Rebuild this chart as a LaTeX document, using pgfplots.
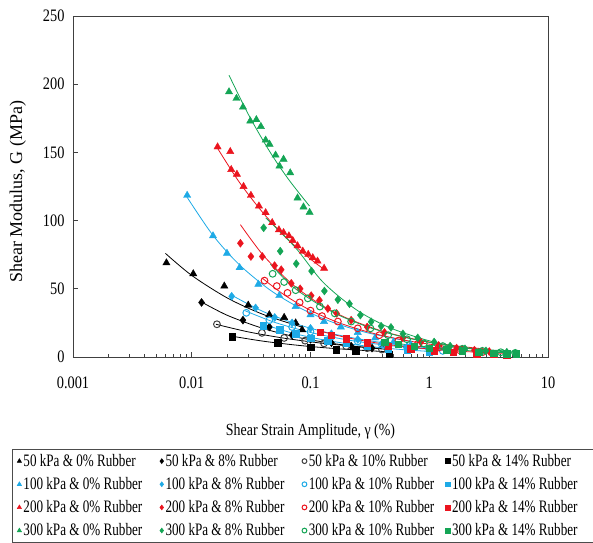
\documentclass[border=0pt]{standalone}
\usepackage{pgfplots}
\pgfplotsset{compat=1.18}
\usepackage{fontspec}
\setmainfont{Liberation Serif}[FakeStretch=0.82]
\newfontfamily\ylabfont{Liberation Serif}
\newfontfamily\legfont{Liberation Serif}[FakeStretch=0.75]
\definecolor{cblue}{RGB}{30,170,230}
\definecolor{cred}{RGB}{235,20,30}
\definecolor{cgreen}{RGB}{20,165,85}
\pgfplotsset{
 sc/.style={only marks, legend image code/.code={\draw[##1,mark size=2.4pt] plot coordinates {(0pt,0pt)};}},
 tl/.style={no markers, line width=0.8pt, smooth, forget plot},
 tri/.style={sc, mark=triangle*, mark size=4.2pt},
 dia/.style={sc, mark=diamond*, mark size=4pt},
 cir/.style={sc, mark=o, mark size=3.4pt, line width=1pt},
 sqr/.style={sc, mark=square*, mark size=3.2pt},
}
\newcommand\LE[1]{\makebox[134.5pt][l]{#1}}
\begin{document}
\begin{tikzpicture}
\begin{axis}[
 scale only axis, width=475pt, height=341pt,
 xmode=log, xmin=0.001, xmax=10, ymin=0, ymax=250,
 xtick={0.001,0.01,0.1,1,10}, xticklabels={0.001,0.01,0.1,1,10},
 ytick={0,50,100,150,200,250},
 tick align=inside, xtick pos=left, ytick pos=left,
 major tick length=5pt, minor tick length=3pt,
 axis line style={black!75, line width=0.9pt},
 every tick/.style={black!75, line width=0.7pt},
 /pgf/number format/assume math mode=true,
 tick label style={font=\fontsize{17.5}{20}\selectfont},
 yticklabel style={xshift=-5pt},
 xticklabel style={yshift=-16pt},
 xlabel={Shear Strain Amplitude, γ (\%)},
 ylabel={Shear Modulus, G (MPa)},
 xlabel style={font=\fontsize{17}{20}\selectfont, at={(axis description cs:0.5,-0.217)}, anchor=center},
 ylabel style={font=\ylabfont\fontsize{18}{20}\selectfont, at={(axis description cs:-0.116,0.484)}, anchor=center},
 legend columns=4,
 legend cell align=left,
 legend style={at={(-0.1284,-0.2698)}, anchor=north west, draw=black!70, line width=0.6pt,
   font=\legfont\fontsize{17.5}{19}\selectfont, row sep=5.5pt, inner xsep=5pt, inner ysep=3pt,
   /tikz/every even column/.append style={column sep=0pt}},
]
% 50 kPa
\addplot[tri, black] coordinates {(0.00612,69) (0.0103,61) (0.0188,52) (0.0299,38) (0.045,31) (0.06,29) (0.075,25) (0.085,20)};
\addlegendentry{\LE{50 kPa \& 0\% Rubber}}
\addplot[tl, black] coordinates {(0.006,76) (0.01,59.8) (0.02,43.2) (0.04,31.2) (0.085,21.9)};
\addplot[dia, black] coordinates {(0.0121,40) (0.027,27) (0.045,22) (0.07,16) (0.1,13) (0.15,10.5) (0.22,8) (0.33,6.5) (0.45,5)};
\addlegendentry{\LE{50 kPa \& 8\% Rubber}}
\addplot[tl, black] coordinates {(0.0117,41) (0.02,30.5) (0.04,20.9) (0.08,14.2) (0.15,10.1) (0.25,7.6) (0.45,5.5)};
\addplot[cir, black!75] coordinates {(0.0163,24) (0.039,17.7) (0.06,14) (0.09,12) (0.13,10) (0.2,8) (0.3,6.5) (0.4,5.5)};
\addlegendentry{\LE{50 kPa \& 10\% Rubber}}
\addplot[tl, black] coordinates {(0.016,24) (0.03,18.4) (0.06,13.8) (0.12,10.3) (0.22,8.0) (0.4,6.2)};
\addplot[sqr, black] coordinates {(0.022,15) (0.053,10.5) (0.1,7) (0.164,5.5) (0.24,4.5) (0.46,2)};
\addlegendentry{\LE{50 kPa \& 14\% Rubber}}
\addplot[tl, black] coordinates {(0.021,15.5) (0.04,11.6) (0.08,8.5) (0.15,6.4) (0.27,4.9) (0.47,3.8)};
% 100 kPa
\addplot[tri, cblue] coordinates {(0.00915,118.5) (0.0151,88.8) (0.0198,76) (0.0253,65.5) (0.0364,53.3) (0.0546,45) (0.075,37) (0.1,31) (0.13,26) (0.18,22) (0.25,18) (0.35,14) (0.5,11) (0.7,9)};
\addlegendentry{\LE{100 kPa \& 0\% Rubber}}
\addplot[tl, cblue] coordinates {(0.009,118) (0.015,89.5) (0.025,67.9) (0.045,49.5) (0.08,36.3) (0.15,25.8) (0.3,17.8) (0.7,11.2)};
\addplot[dia, cblue] coordinates {(0.0217,44.5) (0.0345,36) (0.05,29) (0.07,25) (0.1,21) (0.15,17) (0.25,13) (0.4,10) (0.65,7.5) (1.0,6)};
\addlegendentry{\LE{100 kPa \& 8\% Rubber}}
\addplot[tl, cblue] coordinates {(0.021,46) (0.04,33.3) (0.08,23.6) (0.15,17.2) (0.3,12.2) (0.6,8.6) (1.0,6.7)};
\addplot[cir, cblue] coordinates {(0.0288,32.4) (0.045,27) (0.07,22) (0.1,18.5) (0.15,15) (0.25,11.5) (0.4,9) (0.65,7) (1.0,5.5) (1.3,4.5)};
\addlegendentry{\LE{100 kPa \& 10\% Rubber}}
\addplot[tl, cblue] coordinates {(0.028,34) (0.05,25.4) (0.1,18) (0.2,12.7) (0.4,9) (0.8,6.4) (1.3,5)};
\addplot[sqr, cblue] coordinates {(0.04,23) (0.055,20) (0.075,17) (0.1,14) (0.14,12) (0.2,10) (0.3,8) (0.45,6) (0.65,5) (1.0,3.5)};
\addlegendentry{\LE{100 kPa \& 14\% Rubber}}
\addplot[tl, cblue] coordinates {(0.04,24) (0.07,17.6) (0.12,13.1) (0.2,9.9) (0.35,7.3) (0.6,5.4) (1.0,4.1)};
% 200 kPa
\addplot[tri, cred] coordinates {(0.0165,154) (0.0211,150.6) (0.0215,137.4) (0.024,134) (0.0273,125) (0.0315,118.5) (0.0368,110.7) (0.0419,105.8) (0.0476,98.5) (0.0542,93.2) (0.0593,91.2) (0.0658,88.8) (0.0709,85.4) (0.0778,81.5) (0.0861,77.6) (0.0957,75.2) (0.1045,72.8) (0.1146,70.3) (0.1302,65)};
\addlegendentry{\LE{200 kPa \& 0\% Rubber}}
\addplot[tl, cred] coordinates {(0.0165,153) (0.025,128.5) (0.04,105.5) (0.065,86) (0.1,71.8) (0.131,64.1)};
\addplot[dia, cred] coordinates {(0.0257,83.4) (0.0315,73.7) (0.0393,73.7) (0.0498,67) (0.0567,64) (0.0689,54) (0.0819,50) (0.1014,45) (0.119,41.6) (0.14,35.5) (0.166,32) (0.22,27) (0.3,22) (0.42,18) (0.6,14) (0.85,11) (1.2,8.5) (1.7,6.5) (2.4,5) (3.2,4)};
\addlegendentry{\LE{200 kPa \& 8\% Rubber}}
\addplot[tl, cred] coordinates {(0.0257,97) (0.04,74.6) (0.07,53.5) (0.12,38.8) (0.2,28.7) (0.4,19) (0.8,12.6) (1.5,8.7) (3.2,5.5)};
\addplot[cir, cred] coordinates {(0.041,56) (0.052,52) (0.064,47) (0.081,40) (0.1,34) (0.125,30) (0.17,26) (0.25,21) (0.38,16) (0.55,12) (0.8,9.5) (1.2,7) (1.8,5) (2.8,3.5)};
\addlegendentry{\LE{200 kPa \& 10\% Rubber}}
\addplot[tl, cred] coordinates {(0.039,58) (0.06,45.6) (0.1,34.2) (0.18,24.6) (0.35,17) (0.7,11.5) (1.4,7.8) (2.8,5.3)};
\addplot[sqr, cred] coordinates {(0.12,18) (0.15,16) (0.2,13.5) (0.3,10.5) (0.45,8) (0.7,6) (1.1,4.5) (1.6,3.5) (2.5,2.5) (3.5,2) (4.5,1.5)};
\addlegendentry{\LE{200 kPa \& 14\% Rubber}}
\addplot[tl, cred] coordinates {(0.12,19) (0.2,14.3) (0.35,10.5) (0.6,7.8) (1,5.9) (2,4) (4.5,2.6)};
% 300 kPa
\addplot[tri, cgreen] coordinates {(0.0206,194.4) (0.0238,189.6) (0.027,183.2) (0.0311,173) (0.035,174) (0.0382,169) (0.0419,159) (0.0452,156) (0.0508,148) (0.0548,140) (0.0593,145) (0.0675,135) (0.0778,116.6) (0.0873,110) (0.0983,106)};
\addlegendentry{\LE{300 kPa \& 0\% Rubber}}
\addplot[tl, cgreen] coordinates {(0.0206,206.6) (0.03,177.8) (0.045,151.1) (0.065,130.5) (0.098,110.7)};
\addplot[dia, cgreen] coordinates {(0.0403,94.7) (0.0556,77.6) (0.0759,68.4) (0.102,63) (0.131,48.4) (0.17,42) (0.213,39) (0.263,30.7) (0.324,25.8) (0.393,22.6) (0.476,21.7) (0.6,17) (0.8,14) (1.1,11) (1.5,8) (2,6) (3,4.5) (4.5,3.5)};
\addlegendentry{\LE{300 kPa \& 8\% Rubber}}
\addplot[tl, cgreen] coordinates {(0.042,102) (0.075,80) (0.127,55) (0.24,35) (0.45,22) (0.9,13) (1.6,8) (3,5) (5,3.5)};
\addplot[cir, cgreen] coordinates {(0.048,61) (0.06,55) (0.075,49) (0.095,43) (0.12,37) (0.16,32) (0.22,26) (0.32,21) (0.45,16) (0.65,13) (0.9,10) (1.3,8) (1.9,6) (2.8,4.5) (4,3.5) (5.3,3)};
\addlegendentry{\LE{300 kPa \& 10\% Rubber}}
\addplot[tl, cgreen] coordinates {(0.046,68) (0.07,52) (0.11,40) (0.18,30) (0.33,21) (0.65,14) (1.3,9) (2.5,6) (5.3,4)};
\addplot[sqr, cgreen] coordinates {(0.42,11) (0.55,9.5) (0.75,8) (1.0,6.5) (1.4,5.5) (1.9,4.5) (2.6,3.5) (3.5,3) (4.5,2.5) (5.4,2.5)};
\addlegendentry{\LE{300 kPa \& 14\% Rubber}}
\addplot[tl, cgreen] coordinates {(0.4,11.5) (0.8,8) (1.6,5.5) (3,3.8) (5.4,2.8)};
\end{axis}
\pgfresetboundingbox
\path[use as bounding box] (-73pt,-185pt) rectangle (520pt,357pt);
\end{tikzpicture}
\end{document}
